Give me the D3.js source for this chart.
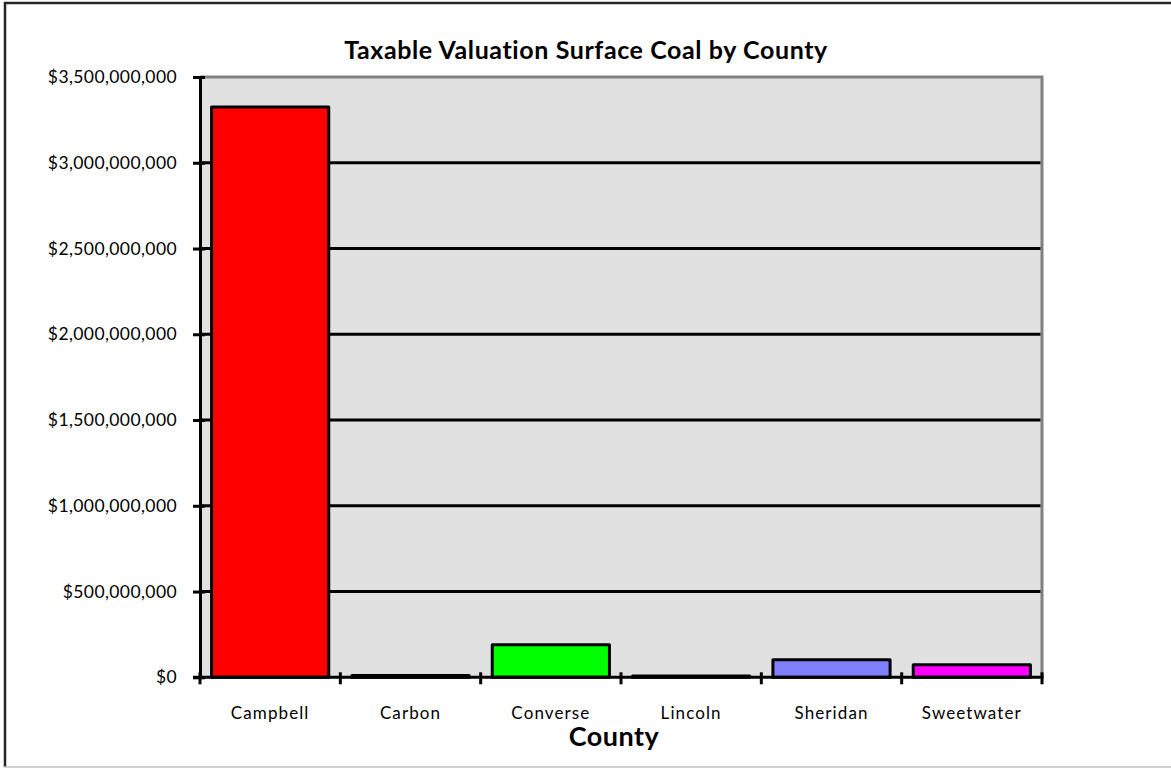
<!DOCTYPE html>
<html>
<head>
<meta charset="utf-8">
<script src="https://cdn.jsdelivr.net/npm/d3@7/dist/d3.min.js"></script>
<style>
  html, body { margin: 0; padding: 0; background: #ffffff; }
  svg { display: block; }
  text { font-family: Lato, "Open Sans", sans-serif; fill: #000; font-variant-ligatures: none; }
</style>
</head>
<body>
<svg id="chart" width="1171" height="768"></svg>
<script>
// Surface coal taxable valuation, by county
const counties = ["Campbell", "Carbon", "Converse", "Lincoln", "Sheridan", "Sweetwater"];
const valuations = [3325000000, 10000000, 190000000, 8000000, 103000000, 73000000];
const barColors = ["#ff0000", "#0000ff", "#00ff00", "#ffff00", "#8080ff", "#ff00ff"];
const yTickValues = [0, 500000000, 1000000000, 1500000000, 2000000000, 2500000000, 3000000000, 3500000000];
const chartTitle = "Taxable Valuation Surface Coal by County";
const xAxisTitle = "County";

const svg = d3.select("#chart");
const W = 1171, H = 768;
const plot = { left: 200, right: 1042, top: 77, bottom: 677.3 };

// Outer chart frame: dark left/top edges, light bottom edge
svg.append("line").attr("x1", 5).attr("x2", 5).attr("y1", 2).attr("y2", 767)
  .attr("stroke", "#262626").attr("stroke-width", 2.5);
svg.append("line").attr("x1", 4).attr("x2", W).attr("y1", 3).attr("y2", 3)
  .attr("stroke", "#262626").attr("stroke-width", 2.5);
svg.append("line").attr("x1", 4).attr("x2", W).attr("y1", 767).attr("y2", 767)
  .attr("stroke", "#c0c0c0").attr("stroke-width", 1.5);

const y = d3.scaleLinear().domain([0, 3500000000]).range([plot.bottom, plot.top]);
const x = d3.scaleBand().domain(counties).range([plot.left, plot.right])
  .paddingInner(0.165).paddingOuter(0.0825);
const step = x.step();

// Plot area background with grey top and right frame
svg.append("rect")
  .attr("x", plot.left).attr("y", plot.top)
  .attr("width", plot.right - plot.left).attr("height", plot.bottom - plot.top)
  .attr("fill", "#e1e1e1");
svg.append("path")
  .attr("d", `M${plot.left},${plot.top}H${plot.right}V${plot.bottom}`)
  .attr("fill", "none").attr("stroke", "#808080").attr("stroke-width", 3);

// Horizontal gridlines
svg.append("g").selectAll("line")
  .data(yTickValues.filter(v => v > 0 && v < 3500000000))
  .join("line")
  .attr("x1", plot.left).attr("x2", plot.right - 1.5)
  .attr("y1", d => y(d)).attr("y2", d => y(d))
  .attr("stroke", "#000").attr("stroke-width", 3);

// Bars
svg.append("g").selectAll("rect")
  .data(counties.map((c, i) => ({ c, v: valuations[i], color: barColors[i] })))
  .join("rect")
  .attr("x", d => x(d.c))
  .attr("y", d => y(d.v))
  .attr("width", x.bandwidth())
  .attr("height", d => plot.bottom - y(d.v))
  .attr("fill", d => d.color)
  .attr("stroke", "#000").attr("stroke-width", 3)
  .attr("stroke-linejoin", "round");

// Y axis
const yAxis = d3.axisLeft(y)
  .tickValues(yTickValues)
  .tickFormat(d3.format("$,.0f"))
  .tickSizeInner(7).tickSizeOuter(0).tickPadding(16);
const gy = svg.append("g").attr("transform", `translate(${plot.left},0)`).call(yAxis);
gy.select(".domain").attr("stroke", "#000").attr("stroke-width", 3);
gy.selectAll(".tick line").attr("stroke", "#000").attr("stroke-width", 3)
  .attr("x2", -7).attr("x1", 5);
gy.selectAll(".tick text")
  .attr("font-size", 17.5).attr("letter-spacing", 0.4)
  .style("font-family", "Lato, sans-serif").attr("fill", "#000");

// X axis baseline with tick marks at category boundaries
svg.append("line")
  .attr("x1", plot.left - 7).attr("x2", plot.right + 1.5)
  .attr("y1", plot.bottom).attr("y2", plot.bottom)
  .attr("stroke", "#000").attr("stroke-width", 3);
const boundaries = counties.map(c => x(c) - step * x.paddingInner() / 2).concat([plot.right]);
svg.append("g").selectAll("line")
  .data(boundaries)
  .join("line")
  .attr("x1", d => d).attr("x2", d => d)
  .attr("y1", plot.bottom - 5).attr("y2", plot.bottom + 7)
  .attr("stroke", "#000").attr("stroke-width", 3);

// Category labels
svg.append("g").selectAll("text")
  .data(counties)
  .join("text")
  .attr("x", d => x(d) + x.bandwidth() / 2)
  .attr("y", 719)
  .attr("text-anchor", "middle")
  .attr("font-size", 17).attr("letter-spacing", 1.1)
  .text(d => d);

// Titles
svg.append("text")
  .attr("x", 586).attr("y", 59)
  .attr("text-anchor", "middle")
  .attr("font-size", 25).attr("font-weight", "bold")
  .attr("letter-spacing", 0.6)
  .text(chartTitle);
svg.append("text")
  .attr("x", 614).attr("y", 746)
  .attr("text-anchor", "middle")
  .attr("font-size", 27).attr("font-weight", "bold")
  .attr("letter-spacing", 0.5)
  .text(xAxisTitle);
</script>
</body>
</html>
